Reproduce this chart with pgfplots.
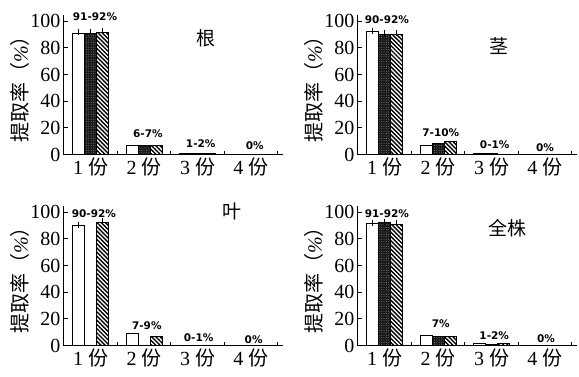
\documentclass[border=0pt]{standalone}
\usepackage{pgfplots}
\pgfplotsset{compat=1.18}
\usepgfplotslibrary{groupplots}
\usetikzlibrary{patterns.meta,calc}
\usepackage{fontspec}
\setmainfont{Liberation Serif}
\newfontfamily\cjk{Noto Sans CJK SC}
\newfontfamily\annf{DejaVu Sans}
\newcommand{\fen}[1]{#1 {\cjk 份}}
\newcommand{\ann}[1]{{\annf\bfseries\fontsize{10.5}{10.5}\selectfont #1}}
\pgfplotsset{
  wbar/.style={fill=white, draw=black, line width=0.8pt, /pgf/bar shift=-12pt},
  dbar/.style={fill=black!90, draw=black, line width=0.8pt, /pgf/bar shift=0pt,
     postaction={pattern={Dots[distance=2.4pt,radius=0.35pt]}, pattern color=white!80!black}},
  hbar/.style={fill=white, draw=black, line width=0.8pt, /pgf/bar shift=12pt,
     postaction={pattern={Lines[angle=-45,distance=3pt,line width=1.4pt]}, pattern color=black}},
  errs/.style={forget plot, error bars/.cd, y dir=plus, y explicit,
     error bar style={line width=0.8pt, black},
     error mark options={mark size=3pt, line width=0.8pt, black}},
}
\begin{document}
\begin{tikzpicture}
\begin{groupplot}[
  group style={group size=2 by 2, horizontal sep=75pt, vertical sep=51pt},
  scale only axis, width=219pt, height=140pt,
  ybar, /pgf/bar width=12pt,
  xmin=0.5, xmax=4.6, ymin=0, ymax=105, enlargelimits=false,
  axis x line=bottom, axis y line=left, axis line style={-, line width=1pt},
  tick align=inside,
  ytick={0,20,...,100},
  xtick={1,2,3,4}, xticklabels={\fen{1},\fen{2},\fen{3},\fen{4}},
  minor xtick={1.5,2.5,3.5,4.5},
  major x tick style={draw=none},
  minor tick length=4pt, major tick length=4pt,
  tick style={line width=0.8pt, black},
  tick label style={font=\fontsize{20}{20}\selectfont},
  /pgf/number format/assume math mode=true,
  ylabel={\fontsize{20}{20}\selectfont\cjk 提取率（{\rmfamily\itshape\%}）},
  ylabel style={yshift=-6pt},
  clip=false,
]
% 根
\nextgroupplot
\addplot[wbar] coordinates {(1,91) (2,6.5) (3,1)};
\addplot[dbar] coordinates {(1,91) (2,6.5) (3,1)};
\addplot[hbar] coordinates {(1,91.5) (2,7) (3,0.5)};
\addplot[wbar, errs] coordinates {(1,91) +- (0,0.6)};
\addplot[dbar, errs] coordinates {(1,91) +- (0,0.6)};
\addplot[hbar, errs] coordinates {(1,91.5) +- (0,1)};
\node at (axis cs:1.08,103) {\ann{91-92\%}};
\node at (axis cs:2.07,15.8) {\ann{6-7\%}};
\node at (axis cs:3.06,8.3) {\ann{1-2\%}};
\node at (axis cs:4.07,6.8) {\ann{0\%}};
\node at (axis cs:3.15,87) {\fontsize{19}{19}\selectfont\cjk 根};
% 茎
\nextgroupplot
\addplot[wbar] coordinates {(1,92) (2,6.5) (3,0.5)};
\addplot[dbar] coordinates {(1,90) (2,8) (3,0.5)};
\addplot[hbar] coordinates {(1,90) (2,10)};
\addplot[wbar, errs] coordinates {(1,92) +- (0,0.6)};
\addplot[dbar, errs] coordinates {(1,90) +- (0,1.5)};
\addplot[hbar, errs] coordinates {(1,90) +- (0,1)};
\node at (axis cs:1.04,101) {\ann{90-92\%}};
\node at (axis cs:2.05,16.5) {\ann{7-10\%}};
\node at (axis cs:3.06,7) {\ann{0-1\%}};
\node at (axis cs:4.0,4.8) {\ann{0\%}};
\node at (axis cs:3.14,81) {\fontsize{19}{19}\selectfont\cjk 茎};
% 叶
\nextgroupplot
\addplot[wbar] coordinates {(1,90) (2,9)};
\addplot[hbar] coordinates {(1,92) (2,7)};
\addplot[wbar, errs] coordinates {(1,90) +- (0,0.6)};
\addplot[hbar, errs] coordinates {(1,92) +- (0,1.5)};
\node at (axis cs:1.06,99) {\ann{90-92\%}};
\node at (axis cs:2.05,15) {\ann{7-9\%}};
\node at (axis cs:3.02,6) {\ann{0-1\%}};
\node at (axis cs:4.05,4.5) {\ann{0\%}};
\node at (axis cs:3.64,100.5) {\fontsize{19}{19}\selectfont\cjk 叶};
% 全株
\nextgroupplot
\addplot[wbar] coordinates {(1,91.5) (2,7.5) (3,1.5)};
\addplot[dbar] coordinates {(1,92) (2,6.5) (3,1)};
\addplot[hbar] coordinates {(1,91) (2,7) (3,1.5)};
\addplot[wbar, errs] coordinates {(1,91.5) +- (0,0.6)};
\addplot[dbar, errs] coordinates {(1,92) +- (0,0.6)};
\addplot[hbar, errs] coordinates {(1,91) +- (0,0.6)};
\node at (axis cs:1.04,99) {\ann{91-92\%}};
\node at (axis cs:2.05,16.5) {\ann{7\%}};
\node at (axis cs:3.05,7.5) {\ann{1-2\%}};
\node at (axis cs:4.02,5.3) {\ann{0\%}};
\node at (axis cs:3.3,88) {\fontsize{19}{19}\selectfont\cjk 全株};
\end{groupplot}
\pgfresetboundingbox
\path[use as bounding box] ($(group c1r1.south west)+(-64pt,154.5pt)$) rectangle +(579pt,-376pt);
\end{tikzpicture}
\end{document}
